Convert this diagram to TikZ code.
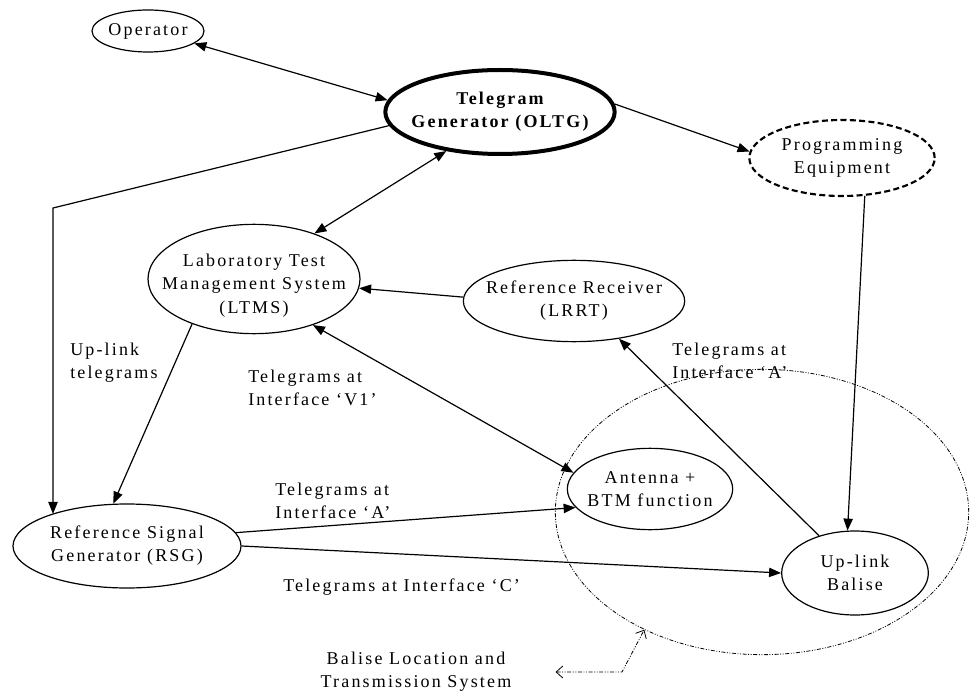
\documentclass[tikz,border=0pt]{standalone}
\usepackage{fontspec}
\setmainfont{Liberation Serif}[LetterSpace=12]
\usetikzlibrary{
  arrows.meta,
  shapes.geometric
}

\begin{document}
\begin{tikzpicture}[x=0.75pt,y=-0.75pt,
  every node/.style={font=\fontsize{13.5}{17.3}\selectfont},
  box/.style={draw,ellipse,inner sep=0pt,line width=0.9pt},
  txt/.style={align=center,inner sep=0pt},
  lbl/.style={align=left,inner sep=0pt,anchor=west},
  link/.style={line width=0.9pt,-{Triangle[length=9pt,width=7pt]}},
  dlink/.style={line width=0.9pt,{Triangle[length=9pt,width=7pt]}-{Triangle[length=9pt,width=7pt]}},
  dotdash/.style={line width=0.6pt,dash pattern=on 3pt off 1.2pt on 0.7pt off 1.2pt on 0.7pt off 1.2pt}]
  \useasboundingbox (0,0) rectangle (973,691);

  % balise location and transmission system
  \node[draw,ellipse,dotdash,minimum width=310pt,minimum height=214pt] (bls) at (762,512) {};

  \node[box,minimum width=84pt,minimum height=31.5pt,
        label={[txt]center:Operator}] (op) at (148,31) {};
  \node[box,line width=3pt,minimum width=172pt,minimum height=63pt,
        label={[txt,font=\fontsize{13.5}{17.3}\selectfont\bfseries]center:Telegram\\Generator (OLTG)}] (oltg) at (500,112) {};
  \node[box,line width=1.6pt,dash pattern=on 4.5pt off 2.5pt,minimum width=139pt,minimum height=57pt,
        label={[txt]center:Programming\\Equipment}] (prog) at (842,158) {};
  \node[box,minimum width=159pt,minimum height=82pt,
        label={[txt,yshift=-5pt]center:Laboratory Test\\Management System\\(LTMS)}] (ltms) at (254,279) {};
  \node[box,minimum width=166pt,minimum height=61pt,
        label={[txt]center:Reference Receiver\\(LRRT)}] (lrrt) at (574,301) {};
  \node[box,minimum width=124pt,minimum height=61pt,
        label={[txt]center:Antenna +\\BTM function}] (ant) at (650,489) {};
  \node[box,minimum width=110pt,minimum height=63pt,
        label={[txt]center:Up-link\\Balise}] (bal) at (855,573) {};
  \node[box,minimum width=171pt,minimum height=63pt,
        label={[txt]center:Reference Signal\\Generator (RSG)}] (rsg) at (127,546) {};

  % labels
  \node[lbl] (uplbl) at (70,363) {Up-link\\telegrams};
  \node[lbl] (vlbl) at (248,388) {Telegrams at\\Interface `V1'};
  \node[lbl] (albl) at (275,501) {Telegrams at\\Interface `A'};
  \node[lbl] (clbl) at (283,587) {Telegrams at Interface `C'};
  \node[lbl] (blbl) at (672,361) {Telegrams at\\Interface `A'};
  \node[txt] (blslbl) at (416,672) {Balise Location and\\Transmission System};

  % connectors
  \coordinate (bend) at (53,208);
  \coordinate (elbow) at (622,672);
  \draw[dlink] (op.-15) -- (oltg.174);
  \draw[link] (oltg.4.5) -- (prog.176);
  \draw[link] (oltg.187) -- (bend) -- (bend |- rsg.157);
  \draw[dlink] (oltg.216) -- (ltms.37);
  \draw[link] (lrrt.178.5) -- (ltms.-5);
  \draw[link] (ltms.216) -- (rsg.108);
  \draw[dlink] (ltms.-38) -- (ant.168);
  \draw[link] (rsg.7) -- (ant.194);
  \draw[link] (rsg.0) -- (bal.180);
  \draw[link] (bal.134) -- (lrrt.-40);
  \draw[link] (prog.-59) -- (bal.100);
  \draw[dotdash,{Straight Barb[length=5pt,width=9pt]}-{Straight Barb[length=5pt,width=9pt]},shorten <=33pt]
    (blslbl.east) -- (elbow) -- (bls.225);
\end{tikzpicture}
\end{document}
